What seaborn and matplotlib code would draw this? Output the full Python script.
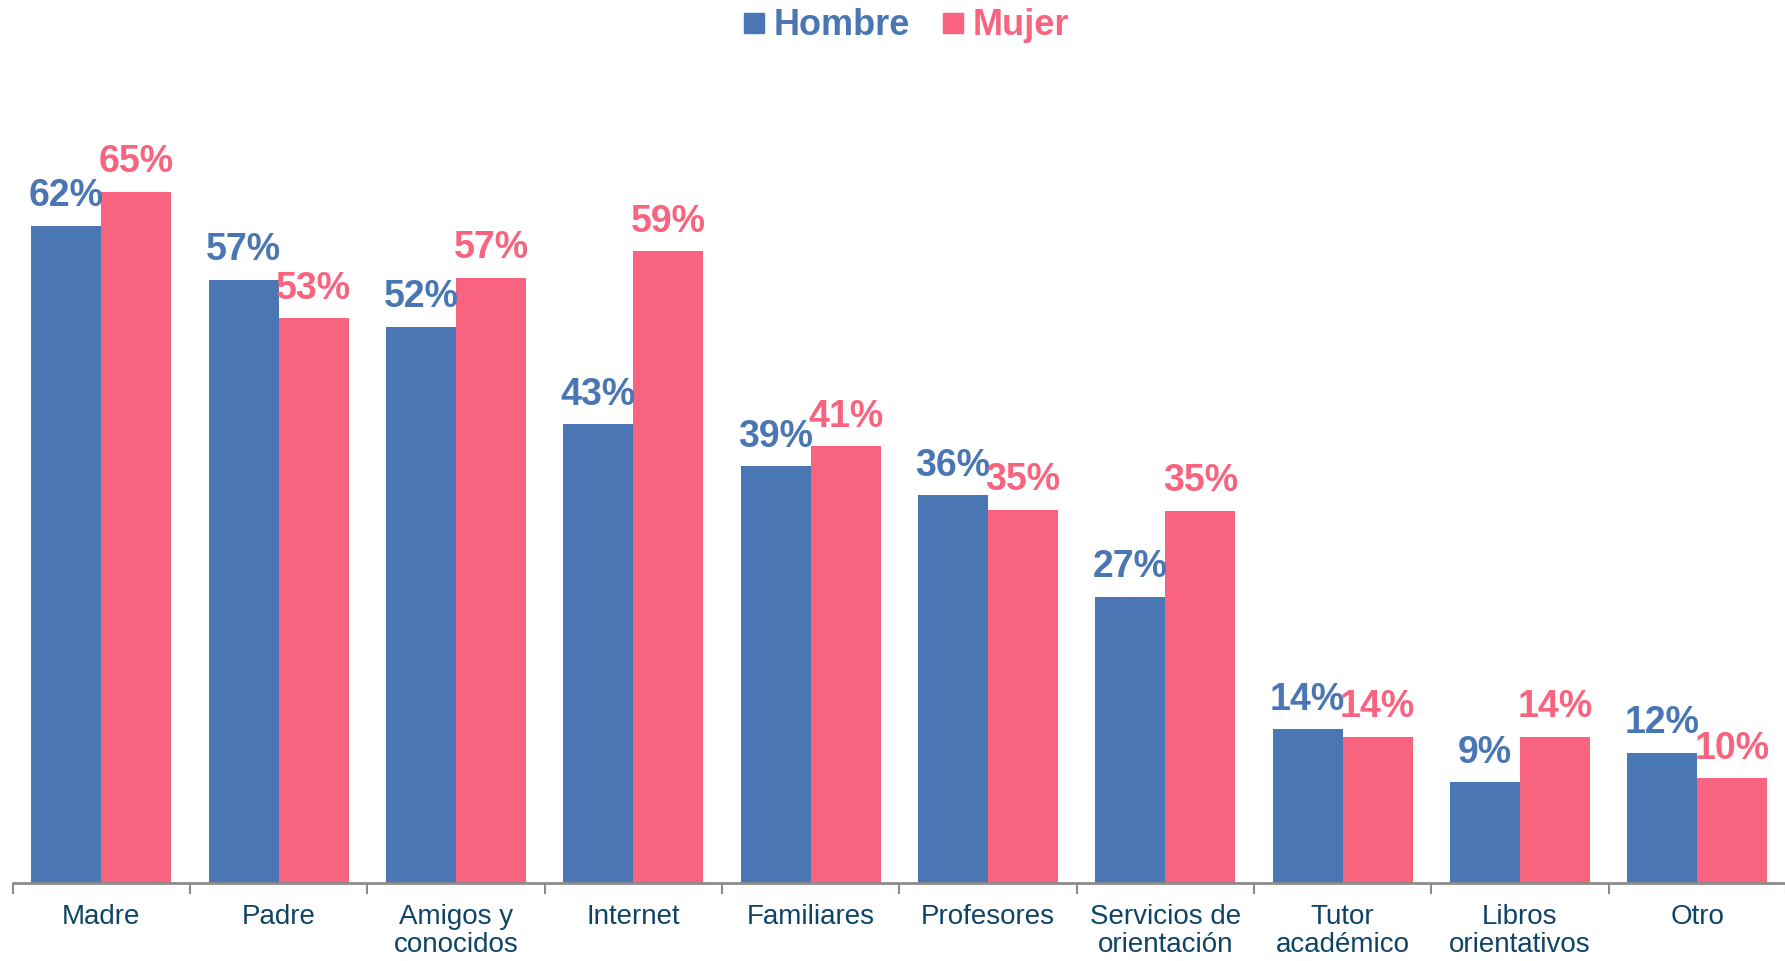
import matplotlib
matplotlib.use("Agg")
import matplotlib.pyplot as plt
from matplotlib.lines import Line2D
import numpy as np
import pandas as pd
import seaborn as sns

# ── Data ────────────────────────────────────────────────────────────────────
CATEGORIES = ["Madre", "Padre", "Amigos y\nconocidos", "Internet", "Familiares",
              "Profesores", "Servicios de\norientación", "Tutor\nacadémico",
              "Libros\norientativos", "Otro"]
HOMBRE = [62.0, 56.9, 52.5, 43.3, 39.3, 36.6, 27.0, 14.5, 9.5, 12.3]
MUJER = [65.2, 53.3, 57.1, 59.6, 41.2, 35.2, 35.1, 13.8, 13.8, 9.9]
HOMBRE_LBL = ["62%", "57%", "52%", "43%", "39%", "36%", "27%", "14%", "9%", "12%"]
MUJER_LBL = ["65%", "53%", "57%", "59%", "41%", "35%", "35%", "14%", "14%", "10%"]
SERIES = ["Hombre", "Mujer"]

BLUE = "#4A77B4"
PINK = "#F8637F"
TICK_COLOR = "#0F4466"

# ── Style ───────────────────────────────────────────────────────────────────
sns.set_theme(style="white")
plt.rcParams["font.family"] = ["Liberation Sans", "DejaVu Sans"]

df = pd.DataFrame({
    "cat": CATEGORIES * 2,
    "val": HOMBRE + MUJER,
    "sexo": [SERIES[0]] * len(CATEGORIES) + [SERIES[1]] * len(CATEGORIES),
})

W, H = 1785, 961
fig = plt.figure(figsize=(W / 100, H / 100), dpi=100)
ax_left, ax_bottom_px, ax_top_px = 12.6, 883, 60
ax = fig.add_axes([ax_left / W, 1 - ax_bottom_px / H,
                   (W - ax_left + 1) / W, (ax_bottom_px - ax_top_px) / H])

sns.barplot(data=df, x="cat", y="val", hue="sexo", palette=[BLUE, PINK],
            width=0.79, gap=0, saturation=1, ax=ax, legend=False,
            edgecolor="none", linewidth=0)

ax.set_xlim(-0.5, len(CATEGORIES) - 0.5)
ax.set_ylim(0, (ax_bottom_px - ax_top_px) / 10.6)

# value labels
for cont, lbls, col in zip(ax.containers, [HOMBRE_LBL, MUJER_LBL], [BLUE, PINK]):
    for bar, lbl in zip(cont, lbls):
        ax.annotate(lbl, (bar.get_x() + bar.get_width() / 2, bar.get_height()),
                    xytext=(0, 14), textcoords="offset points",
                    ha="center", va="baseline", fontsize=27,
                    fontweight="bold", color=col)

# axes cosmetics
for s in ["top", "right", "left"]:
    ax.spines[s].set_visible(False)
ax.spines["bottom"].set_color("#8C8C8C")
ax.spines["bottom"].set_linewidth(2)
ax.set_yticks([])
ax.set_xlabel("")
ax.set_ylabel("")
ax.set_xticks(range(len(CATEGORIES)))
ax.set_xticklabels(CATEGORIES, fontsize=20, color=TICK_COLOR, linespacing=1.1)
ax.tick_params(axis="x", which="major", length=0, pad=15)
ax.set_xticks(np.arange(-0.5, len(CATEGORIES), 1.0), minor=True)
ax.tick_params(axis="x", which="minor", length=8, width=1.5, color="#8C8C8C",
               direction="out", bottom=True)

# legend
handles = [Line2D([], [], marker="s", linestyle="none", markersize=14,
                  markerfacecolor=c, markeredgecolor=c) for c in [BLUE, PINK]]
fig.legend(handles, SERIES, loc="center", bbox_to_anchor=(0.5076, 0.973),
           ncol=2, frameon=False, prop={"size": 26, "weight": "bold"},
           labelcolor=[BLUE, PINK], handlelength=0.6, handletextpad=0.25,
           columnspacing=0.9, borderaxespad=0)

fig.savefig("out.png", dpi=100)
